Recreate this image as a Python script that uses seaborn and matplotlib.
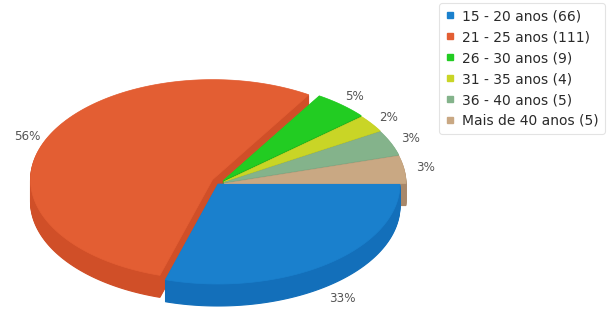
import matplotlib
matplotlib.use("Agg")
import matplotlib.pyplot as plt
import seaborn as sns
import numpy as np
from matplotlib.lines import Line2D

# ---- data ----
categories = ["15 - 20 anos", "21 - 25 anos", "26 - 30 anos",
              "31 - 35 anos", "36 - 40 anos", "Mais de 40 anos"]
counts = [66, 111, 9, 4, 5, 5]
pct_labels = ["33%", "56%", "5%", "2%", "3%", "3%"]

# ---- styles ----
top_colors = ["#1a80cd", "#e35e33", "#22cc22", "#c9d526", "#84b38b", "#c9a883"]
side_colors = ["#136fba", "#d04f28", "#179c17", "#a3ad18", "#688f6f", "#a8886a"]
explode_px = [0, 7, 6, 6, 6, 6]

sns.set_theme(style="white")
plt.rcParams['font.family'] = ['DejaVu Sans']

W, H = 612, 317
fig = plt.figure(figsize=(W / 100, H / 100), dpi=100)
ax = fig.add_axes([0, 0, 1, 1])
ax.set_xlim(0, W)
ax.set_ylim(H, 0)
ax.axis("off")

# projected pie geometry (pixel units, y downwards)
cx, cy = 218, 184
rx, ry = 182, 100
depth = 22

vals = np.asarray(counts, dtype=float)
bounds = np.concatenate([[0], np.cumsum(vals) / vals.sum() * 2 * np.pi])


def ellipse_pt(a):
    r = 1.0 / np.sqrt((np.cos(a) / rx) ** 2 + (np.sin(a) / ry) ** 2)
    return r * np.cos(a), r * np.sin(a)


slices = []
for i in range(len(vals)):
    a1, a2 = bounds[i], bounds[i + 1]
    am = (a1 + a2) / 2
    ox = cx + explode_px[i] * np.cos(am)
    oy = cy + explode_px[i] * np.sin(am)
    n = max(int(np.degrees(a2 - a1) * 2), 8)
    aa = np.linspace(a1, a2, n)
    ex, ey = ellipse_pt(aa)
    xs = np.concatenate([[ox], ox + ex])
    ys = np.concatenate([[oy], oy + ey])
    slices.append((xs, ys))

# extrusion (side faces) drawn as stacked layers
for k in range(depth, 0, -1):
    for (xs, ys), c in zip(slices, side_colors):
        ax.fill(xs, ys + k, color=c, lw=0.8, ec=c, zorder=1)

# top faces
for (xs, ys), c in zip(slices, top_colors):
    ax.fill(xs, ys, color=c, lw=0.5, ec=c, zorder=2)

# percentage labels
d = 1.15
for i, lab in enumerate(pct_labels):
    a1, a2 = bounds[i], bounds[i + 1]
    t1 = np.arctan2(rx * np.sin(a1), ry * np.cos(a1))
    t2 = np.arctan2(rx * np.sin(a2), ry * np.cos(a2))
    while t2 <= t1:
        t2 += 2 * np.pi
    tm = (t1 + t2) / 2
    tx = cx + d * rx * np.cos(tm)
    ty = cy + d * ry * np.sin(tm)
    if np.sin(tm) > 0:
        ty += depth
    ax.text(tx, ty, lab, ha="center", va="center", fontsize=8.6,
            color="#555555", zorder=3)

handles = [Line2D([0], [0], marker="s", linestyle="none", markersize=4.5,
                  markerfacecolor=c, markeredgecolor=c) for c in top_colors]
labels = [f"{c} ({n})" for c, n in zip(categories, counts)]
leg = fig.legend(handles, labels, loc="upper right",
                 bbox_to_anchor=(605 / W, 1 - 3 / H), frameon=True,
                 fontsize=10, handlelength=0.7, handletextpad=0.5,
                 labelspacing=0.5, borderpad=0.45, borderaxespad=0.0,
                 fancybox=True, edgecolor="#dddddd", labelcolor="#2a2a2a")
leg.get_frame().set_linewidth(0.8)

fig.savefig("out.png", dpi=100)
